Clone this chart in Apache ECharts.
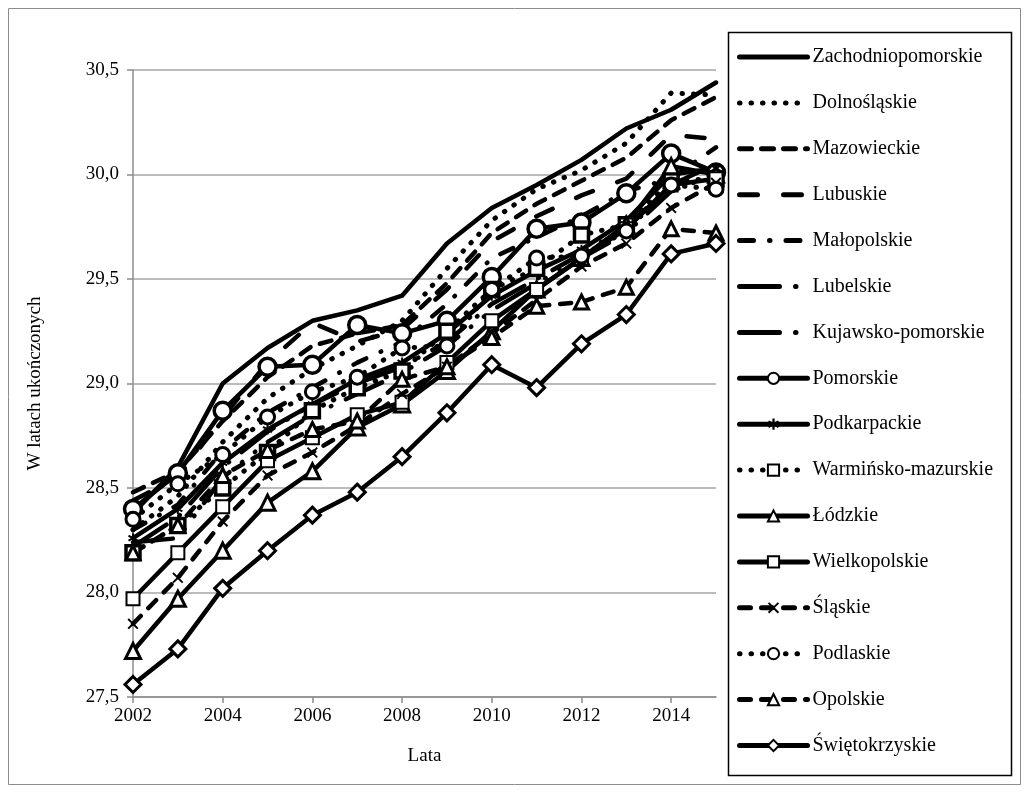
<!DOCTYPE html>
<html>
<head>
<meta charset="utf-8">
<script src="https://cdn.jsdelivr.net/npm/echarts@6/dist/echarts.min.js"></script>
<style>
html,body{margin:0;padding:0;background:#fff;}
#chart{width:1029px;height:793px;}
</style>
</head>
<body>
<div id="chart"></div>
<script>
const years = ['2002','2003','2004','2005','2006','2007','2008','2009','2010','2011','2012','2013','2014','2015'];
const yTicks = [27.5, 28.0, 28.5, 29.0, 29.5, 30.0, 30.5];

const zachodniopomorskie = [28.38, 28.60, 29.00, 29.17, 29.30, 29.35, 29.42, 29.67, 29.84, 29.95, 30.07, 30.22, 30.31, 30.44];
const dolnoslaskie       = [28.30, 28.46, 28.72, 28.93, 29.07, 29.18, 29.30, 29.55, 29.78, 29.93, 30.02, 30.15, 30.39, 30.38];
const mazowieckie        = [28.48, 28.58, 28.82, 29.03, 29.18, 29.24, 29.28, 29.48, 29.72, 29.86, 29.97, 30.08, 30.26, 30.37];
const lubuskie           = [28.44, 28.55, 28.84, 29.10, 29.29, 29.20, 29.26, 29.45, 29.68, 29.80, 29.90, 29.98, 30.19, 30.17];
const malopolskie        = [28.30, 28.42, 28.68, 28.86, 28.98, 29.10, 29.20, 29.38, 29.60, 29.70, 29.80, 29.92, 29.98, 30.13];
const lubelskie          = [28.22, 28.36, 28.60, 28.77, 28.90, 29.00, 29.08, 29.20, 29.38, 29.50, 29.62, 29.75, 29.95, 30.05];
const kujawskoPomorskie  = [28.24, 28.26, 28.55, 28.72, 28.85, 28.95, 29.05, 29.18, 29.35, 29.48, 29.60, 29.72, 29.92, 30.00];
const pomorskie          = [28.40, 28.57, 28.87, 29.08, 29.09, 29.28, 29.24, 29.30, 29.51, 29.74, 29.77, 29.91, 30.10, 30.01];
const podkarpackie       = [28.26, 28.40, 28.62, 28.78, 28.90, 29.02, 29.10, 29.24, 29.42, 29.54, 29.64, 29.78, 30.00, 30.03];
const warminskoMazurskie = [28.19, 28.32, 28.50, 28.67, 28.87, 28.98, 29.06, 29.25, 29.45, 29.55, 29.71, 29.76, 29.97, 29.98];
const lodzkie            = [27.72, 27.97, 28.20, 28.43, 28.58, 28.79, 28.90, 29.06, 29.25, 29.45, 29.60, 29.76, 30.04, 30.00];
const wielkopolskie      = [27.97, 28.19, 28.41, 28.63, 28.74, 28.85, 28.91, 29.10, 29.30, 29.45, 29.60, 29.74, 29.95, 29.98];
const slaskie            = [27.85, 28.07, 28.34, 28.56, 28.67, 28.80, 28.95, 29.08, 29.24, 29.40, 29.56, 29.67, 29.84, 29.96];
const podlaskie          = [28.35, 28.52, 28.66, 28.84, 28.96, 29.03, 29.17, 29.18, 29.45, 29.60, 29.61, 29.73, 29.95, 29.93];
const opolskie           = [28.19, 28.32, 28.56, 28.68, 28.78, 28.82, 29.02, 29.08, 29.22, 29.37, 29.39, 29.46, 29.74, 29.72];
const swietokrzyskie     = [27.56, 27.73, 28.02, 28.20, 28.37, 28.48, 28.65, 28.86, 29.09, 28.98, 29.19, 29.33, 29.62, 29.67];

const seriesNames = ['Zachodniopomorskie','Dolnośląskie','Mazowieckie','Lubuskie','Małopolskie','Lubelskie','Kujawsko-pomorskie','Pomorskie','Podkarpackie','Warmińsko-mazurskie','Łódzkie','Wielkopolskie','Śląskie','Podlaskie','Opolskie','Świętokrzyskie'];
const seriesValues = [zachodniopomorskie, dolnoslaskie, mazowieckie, lubuskie, malopolskie, lubelskie, kujawskoPomorskie, pomorskie, podkarpackie, warminskoMazurskie, lodzkie, wielkopolskie, slaskie, podlaskie, opolskie, swietokrzyskie];

const FONT = 'Liberation Serif';
const DOT = [0.5, 11];
const DASH = [11, 11];
const CLEAR = 'rgba(0,0,0,0)';
const XPATH = 'path://M0,1.2 L1.2,0 L5,3.8 L8.8,0 L10,1.2 L6.2,5 L10,8.8 L8.8,10 L5,6.2 L1.2,10 L0,8.8 L3.8,5 Z';
const STAR = 'path://M4,0 L6,0 L6,3.3 L9,1.6 L10,3.3 L7,5 L10,6.7 L9,8.4 L6,6.7 L6,10 L4,10 L4,6.7 L1,8.4 L0,6.7 L3,5 L0,3.3 L1,1.6 L4,3.3 Z';
const styles = [
  {type:'solid', symbol:null},
  {type:DOT, symbol:null, width:5},
  {type:[12,10], symbol:null},
  {type:[18,26], symbol:null},
  {type:[14,16,0.5,16], symbol:null},
  {type:[40,16,0.5,16], symbol:null},
  {type:[40,16,0.5,16,0.5,16], symbol:null},
  {type:'solid', symbol:'circle', size:17, fill:'#fff', bw:3.5},
  {type:'solid', symbol:STAR, size:10, fill:'#000', bw:0},
  {type:DOT, symbol:'rect', size:14, fill:'#fff', bw:3.5, width:5},
  {type:'solid', symbol:'triangle', size:15, fill:'#fff', bw:3},
  {type:'solid', symbol:'rect', size:13, fill:'#fff', bw:2},
  {type:DASH, symbol:XPATH, size:11, fill:'#000', bw:0},
  {type:DOT, symbol:'circle', size:14, fill:'#fff', bw:3, width:5},
  {type:DASH, symbol:'triangle', size:14, fill:'#fff', bw:3},
  {type:'solid', symbol:'diamond', size:16, fill:'#fff', bw:3}
];

const series = seriesNames.map((name, i) => {
  const s = styles[i];
  const has = !!s.symbol;
  return {
    name: name,
    type: 'line',
    data: seriesValues[i],
    symbol: has ? s.symbol : 'circle',
    symbolSize: has ? s.size : 4,
    showSymbol: has,
    lineStyle: {color:'#000', width: s.width || 4.5, type: s.type, cap: 'round', join: 'round'},
    itemStyle: {color: has ? s.fill : CLEAR, borderColor: has ? '#000' : CLEAR, borderWidth: has ? s.bw : 0},
    emphasis: {disabled: true},
    animation: false
  };
});

const chart = echarts.init(document.getElementById('chart'), null, {renderer:'canvas'});
chart.setOption({
  backgroundColor: '#fff',
  animation: false,
  textStyle: {fontFamily: FONT, color: '#000'},
  graphic: [
    {type:'rect', shape:{x:8.5, y:8.5, width:1012, height:776}, style:{fill:'none', stroke:'#8c8c8c', lineWidth:1}, silent:true, z:-10},
    {type:'rect', shape:{x:728.5, y:32.5, width:283, height:743}, style:{fill:'#fff', stroke:'#000', lineWidth:1.5}, silent:true, z:-5}
  ],
  grid: {left:133, top:70, width:583, height:627, containLabel:false},
  xAxis: {
    type: 'category',
    data: years,
    boundaryGap: false,
    name: 'Lata',
    nameLocation: 'middle',
    nameGap: 50,
    nameTextStyle: {fontFamily: FONT, fontSize: 19, color:'#000'},
    axisLine: {lineStyle: {color:'#8c8c8c', width:1.5}},
    axisTick: {show:true, interval:1, length:6, lineStyle:{color:'#8c8c8c', width:1.5}},
    axisLabel: {interval:1, margin:10, fontFamily: FONT, fontSize: 19, color:'#000'},
    splitLine: {show:false}
  },
  yAxis: {
    type: 'value',
    min: yTicks[0],
    max: yTicks[yTicks.length-1],
    interval: 0.5,
    name: 'W latach ukończonych',
    nameLocation: 'middle',
    nameRotate: 90,
    nameGap: 88,
    nameTextStyle: {fontFamily: FONT, fontSize: 19, color:'#000'},
    axisLine: {show:true, lineStyle:{color:'#8c8c8c', width:1.5}},
    axisTick: {show:true, length:6, inside:false, lineStyle:{color:'#8c8c8c', width:1.5}},
    axisLabel: {margin:14, fontFamily: FONT, fontSize: 19, color:'#000', formatter: v => v.toFixed(1).replace('.', ',')},
    splitLine: {show:true, lineStyle:{color:'#a6a6a6', width:1.5}}
  },
  legend: {
    orient: 'vertical',
    left: 728,
    top: 33,
    padding: [12, 8, 12, 9],
    itemWidth: 68,
    itemHeight: 14,
    itemGap: 21.9,
    lineStyle: {width: 5},
    textStyle: {fontFamily: FONT, fontSize: 20, color:'#000', lineHeight: 24},
    data: seriesNames,
    selectedMode: false
  },
  series: series
});
</script>
</body>
</html>
